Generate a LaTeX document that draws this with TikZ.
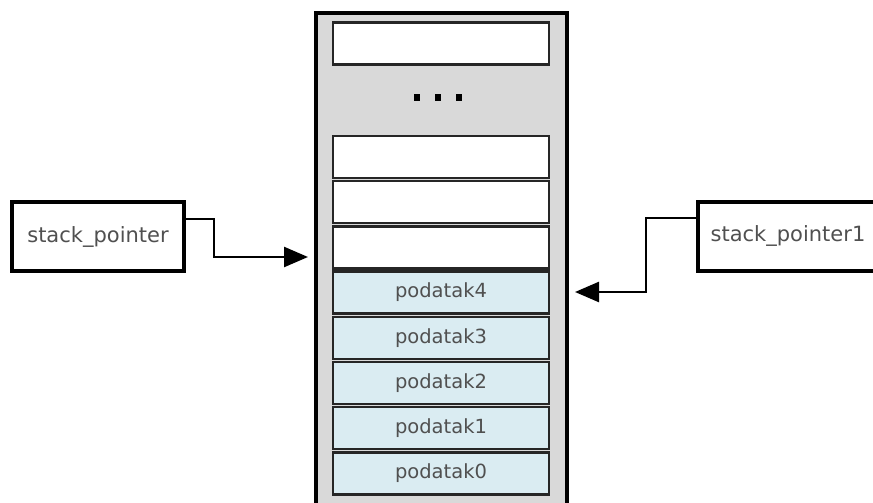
\documentclass[tikz,border=0pt]{standalone}
\usepackage{fontspec}
\setmainfont{DejaVu Sans}
\usepackage{xcolor}
\usetikzlibrary{positioning,arrows.meta}
\definecolor{stackgray}{HTML}{D9D9D9}
\definecolor{cellblue}{HTML}{DAECF2}
\definecolor{txtgray}{HTML}{505050}

\begin{document}
\begin{tikzpicture}[x=1pt,y=-1pt,>={Triangle[length=24pt,width=20pt]},
   stackbox/.style={draw=black,line width=3.5pt,fill=stackgray},
   cell/.style={draw=black!85,line width=2.5pt,fill=white,minimum width=216pt,minimum height=42pt,
     inner sep=0pt,text=txtgray,font=\fontsize{19.5}{22}\selectfont},
   data/.style={cell,fill=cellblue},
   ptrbox/.style={draw=black,line width=4pt,fill=white,minimum height=69pt,inner sep=0pt,
     text=txtgray,font=\fontsize{21}{24}\selectfont},
   dotsq/.style={fill=black,minimum width=6pt,minimum height=7pt,inner sep=0pt},
   ptr/.style={->,line width=2.5pt}]
  \useasboundingbox (0,0) rectangle (873,503);
  % the stack itself, its bottom lies below the picture
  \draw[stackbox] (316,13) rectangle (567,540);
  \node[cell] (top) at (441,43.5) {};
  \foreach \i/\x in {0/417,1/438,2/459}
    \node[dotsq] (dot\i) at (\x,97) {};
  \foreach \i in {0,1,2}
    \node[cell] (free\i) at (441,157+45.2*\i) {};
  \foreach \i/\n in {3/4,4/3,5/2,6/1,7/0}
    \node[data] (pod\n) at (441,157+45.2*\i) {podatak\n};
  % pointers
  \node[ptrbox,minimum width=172pt] (sp) at (98,236.5) {stack\_pointer};
  \node[ptrbox,minimum width=180pt] (sp1) at (788,236) {stack\_pointer1};
  \coordinate (inL) at (308,257);
  \coordinate (inR) at (575,292);
  \draw[ptr] ([yshift=17.5pt]sp.east) -- ++(28,0) |- (inL);
  \draw[ptr] ([yshift=18pt]sp1.west) -- ++(-50,0) |- (inR);
\end{tikzpicture}
\end{document}
